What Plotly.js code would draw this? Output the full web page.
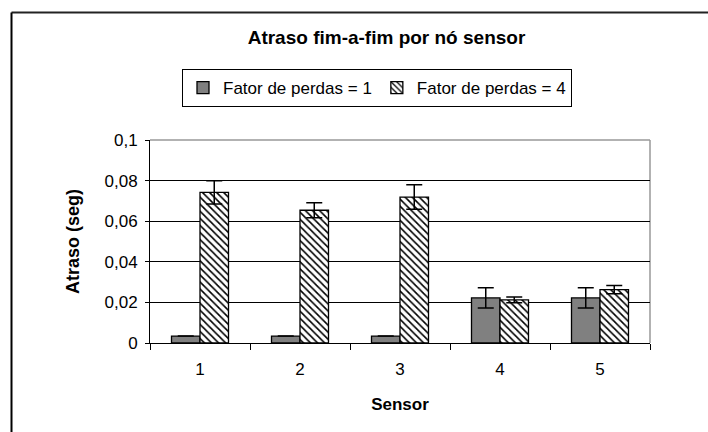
<!DOCTYPE html>
<html>
<head>
<meta charset="utf-8">
<script src="https://cdn.plot.ly/plotly-3.0.1.min.js"></script>
<style>html,body{margin:0;padding:0;background:#fff;}#chart{width:708px;height:432px;}</style>
</head>
<body>
<div id="chart"></div>
<script>
// Data
const sensors = ['1', '2', '3', '4', '5'];
const seriesNames = ['Fator de perdas = 1', 'Fator de perdas = 4'];
const delayLoss1 = [0.0034, 0.0034, 0.0034, 0.0222, 0.0222];
const errLoss1   = [0, 0, 0, 0.005, 0.005];
const delayLoss4 = [0.0742, 0.0654, 0.0719, 0.0212, 0.0263];
const errLoss4   = [0.0057, 0.0037, 0.006, 0.0014, 0.002];
const yTicks = [0, 0.02, 0.04, 0.06, 0.08, 0.1];

const FONT = 'Liberation Sans, Arial, sans-serif';

const traces = [
  {
    type: 'bar', name: seriesNames[0], x: sensors, y: delayLoss1,
    marker: {color: '#808080', line: {color: '#000', width: 1.3}},
    error_y: {type: 'data', array: errLoss1, visible: true, color: '#000', thickness: 1.5, width: 8}
  },
  {
    type: 'bar', name: seriesNames[1], x: sensors, y: delayLoss4,
    marker: {color: '#fff', line: {color: '#000', width: 1.3},
             pattern: {shape: '\\', fgcolor: '#000', bgcolor: '#fff', size: 5, solidity: 0.32}},
    error_y: {type: 'data', array: errLoss4, visible: true, color: '#000', thickness: 1.5, width: 8}
  }
];

const L = 150, R = 650, T = 140, B = 343;
const px = v => (v - L) / (R - L);
const py = v => (B - v) / (B - T);

const layout = {
  width: 708, height: 432,
  margin: {l: L, r: 708 - R, t: T, b: 432 - B},
  paper_bgcolor: '#fff', plot_bgcolor: '#fff',
  separators: ',.',
  font: {family: FONT, size: 17, color: '#000'},
  title: {text: '<b>Atraso fim-a-fim por nó sensor</b>', font: {family: FONT, size: 19, color: '#000'},
          xref: 'container', yref: 'container', x: 386.5 / 708, y: 1 - 37 / 432, xanchor: 'center', yanchor: 'middle'},
  barmode: 'group', bargap: 0.43, bargroupgap: 0,
  showlegend: true,
  legend: {orientation: 'h', x: px(377), y: py(69), xanchor: 'center', yanchor: 'top',
           bordercolor: '#000', borderwidth: 1, bgcolor: '#fff',
           font: {family: FONT, size: 17, color: '#000'}, itemwidth: 30, traceorder: 'normal'},
  xaxis: {
    type: 'category', tickson: 'boundaries', ticks: 'outside', ticklen: 6, tickcolor: '#000', tickwidth: 1,
    showline: true, linecolor: '#000', linewidth: 1, showgrid: false, zeroline: false,
    ticklabelstandoff: 11,
    tickfont: {family: FONT, size: 17, color: '#000'},
    title: {text: '<b>Sensor</b>', font: {family: FONT, size: 17, color: '#000'}, standoff: 19}
  },
  yaxis: {
    range: [0, 0.1], tickvals: yTicks, ticks: 'outside', ticklen: 4, tickcolor: '#000', tickwidth: 1,
    showline: true, linecolor: '#000', linewidth: 1, showgrid: true, gridcolor: '#000', gridwidth: 1,
    zeroline: false, ticklabelstandoff: 4,
    tickfont: {family: FONT, size: 17, color: '#000'},
    title: {text: '<b>Atraso (seg)</b>', font: {family: FONT, size: 18, color: '#000'}, standoff: 20}
  },
  shapes: [
    {type: 'line', xref: 'paper', yref: 'paper', x0: 0, x1: 1, y0: 1, y1: 1, line: {color: '#999', width: 1.5}, layer: 'below'},
    {type: 'line', xref: 'paper', yref: 'paper', x0: 1, x1: 1, y0: 0, y1: 1, line: {color: '#999', width: 1.5}, layer: 'below'},
    {type: 'line', xref: 'paper', yref: 'paper', x0: px(11.5), x1: px(710), y0: py(12.5), y1: py(12.5), line: {color: '#222', width: 2}},
    {type: 'line', xref: 'paper', yref: 'paper', x0: px(11.5), x1: px(11.5), y0: py(12.5), y1: py(440), line: {color: '#000', width: 2}}
  ]
};

Plotly.newPlot('chart', traces, layout, {displayModeBar: false, staticPlot: true});
</script>
</body>
</html>
